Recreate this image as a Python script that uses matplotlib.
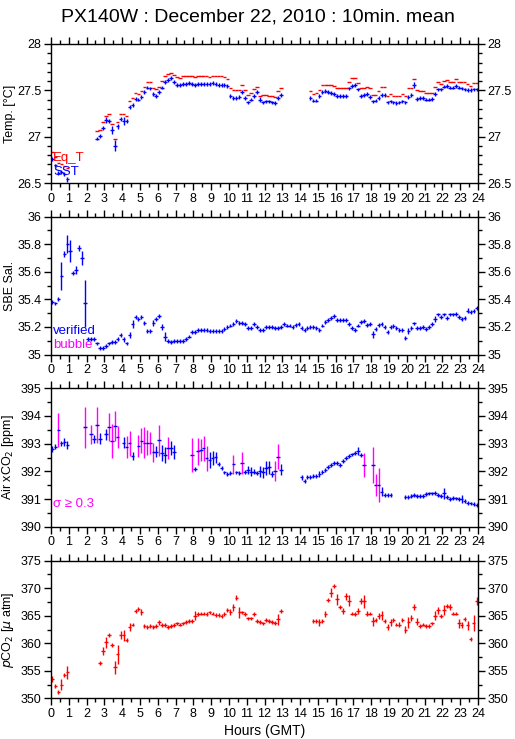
import numpy as np
import matplotlib
matplotlib.use('Agg')
import matplotlib.pyplot as plt
from matplotlib.ticker import MultipleLocator, FuncFormatter

plt.rcParams['font.family'] = ['Liberation Sans', 'DejaVu Sans']

nan = np.nan

# 10 minute bins, 144 per day
hours = np.arange(144) / 6 + 1 / 12

sst = ([26.76, 26.69, 26.61, 26.62, 26.60, 26.54] + [nan] * 9 +
       [26.98, 27.01, 27.09, 27.18, 27.17, 27.07, 26.90, 27.11, 27.19, 27.17,
        27.17, 27.32, 27.34, 27.41, 27.40, 27.43, 27.48, 27.53, 27.52, 27.46,
        27.44, 27.48, 27.53, 27.59, 27.61, 27.63, 27.59,
        27.56, 27.56, 27.57, 27.57, 27.58, 27.57, 27.56, 27.57, 27.57, 27.57,
        27.57, 27.57, 27.58, 27.57, 27.56, 27.56, 27.56, 27.55,
        27.44, 27.42, 27.42, 27.43, 27.48, 27.42, 27.37, 27.40, 27.44,
        27.48, 27.40, 27.37, 27.38, 27.38, 27.37, 27.36, 27.42, 27.45] + [nan] * 9 +
       [27.42, 27.39, 27.39, 27.44, 27.48, 27.49, 27.48, 27.47, 27.46, 27.44,
        27.44, 27.44, 27.44, 27.52, 27.55, 27.56, 27.51, 27.44, 27.45, 27.46,
        27.43, 27.38, 27.39, 27.42, 27.45, 27.45, 27.37, 27.38, 27.37, 27.36,
        27.37, 27.38, 27.37, 27.43, 27.45, 27.56, 27.41, 27.42, 27.42, 27.40,
        27.40, 27.41, 27.46, 27.51, 27.51, 27.54, 27.55, 27.53, 27.53, 27.55,
        27.53, 27.52, 27.51, 27.50, 27.50, 27.51, 27.51])

eq_t = ([26.83, 26.78, 26.72, 26.70, 26.68, 26.66] + [nan] * 9 +
        [27.06, 27.07, 27.16, 27.22, 27.24, 27.14, 26.97, 27.16, 27.25, 27.24,
         27.22, 27.38, 27.42, 27.47, 27.46, 27.49, 27.54, 27.59, 27.59, 27.53,
         27.51, 27.54, 27.60, 27.65, 27.68, 27.69, 27.67,
         27.64, 27.63, 27.65, 27.65, 27.65, 27.65, 27.64, 27.65, 27.65, 27.65,
         27.65, 27.64, 27.65, 27.65, 27.65, 27.65, 27.64, 27.62,
         27.53, 27.50, 27.50, 27.50, 27.56, 27.50, 27.45, 27.47, 27.51,
         27.54, 27.44, 27.45, 27.45, 27.44, 27.44, 27.43, 27.49, 27.52] + [nan] * 9 +
        [27.49, 27.46, 27.47, 27.50, 27.56, 27.56, 27.56, 27.56, 27.55, 27.52,
         27.53, 27.52, 27.52, 27.59, 27.63, 27.63, 27.58, 27.53, 27.53, 27.54,
         27.52, 27.45, 27.45, 27.49, 27.54, 27.54, 27.44, 27.46, 27.44, 27.44,
         27.44, 27.46, 27.44, 27.52, 27.53, 27.62, 27.50, 27.49, 27.49, 27.47,
         27.47, 27.47, 27.54, 27.59, 27.57, 27.60, 27.61, 27.59, 27.59, 27.62,
         27.59, 27.59, 27.59, 27.57, 27.55, 27.58, 27.58])

# bins with a visible spread (index, std)
sst_err = {5: 0.03, 18: 0.03, 19: 0.02, 20: 0.04, 21: 0.06, 22: 0.03, 24: 0.04,
           25: 0.02, 26: 0.02, 27: 0.02, 34: 0.02, 64: 0.02, 68: 0.02, 70: 0.03,
           77: 0.02, 122: 0.03, 129: 0.02}

sal = [35.38, 35.37, 35.40, 35.57, 35.73, 35.80, 35.75, 35.59, 35.61, 35.77, 35.70, 35.37,
       35.11, 35.11, 35.11, 35.08, 35.05, 35.05, 35.06, 35.08, 35.09, 35.09, 35.11, 35.14,
       35.11, 35.08, 35.14, 35.22,
       35.27, 35.26, 35.27, 35.23, 35.17, 35.17, 35.23, 35.26, 35.28, 35.20, 35.13, 35.10,
       35.09, 35.10,
       35.10, 35.10, 35.10, 35.11, 35.13, 35.16, 35.16, 35.175, 35.175, 35.175, 35.175,
       35.17, 35.17, 35.17, 35.17, 35.17,
       35.185, 35.20, 35.21, 35.22, 35.24, 35.23, 35.23, 35.22, 35.19, 35.19,
       35.22, 35.20, 35.175, 35.175, 35.20, 35.20, 35.20, 35.19, 35.19, 35.20,
       35.22, 35.21, 35.21, 35.20, 35.215, 35.22, 35.19, 35.175, 35.19, 35.20,
       35.20, 35.19, 35.175, 35.21, 35.235, 35.25, 35.265, 35.28, 35.25, 35.248,
       35.25, 35.25, 35.22, 35.19, 35.18, 35.21, 35.235, 35.245, 35.215, 35.22,
       35.148, 35.185, 35.215, 35.22, 35.197, 35.16, 35.197, 35.204, 35.19, 35.18,
       35.18, 35.12, 35.17, 35.19, 35.225, 35.19, 35.19, 35.197, 35.185, 35.20,
       35.22, 35.257, 35.29, 35.27, 35.29, 35.265, 35.29, 35.29, 35.294, 35.27,
       35.257, 35.265, 35.318, 35.31, 35.313, 35.337]

sal_err = {3: 0.10, 4: 0.02, 5: 0.065, 6: 0.08, 8: 0.03, 9: 0.02, 10: 0.05, 11: 0.17,
           23: 0.015, 24: 0.02, 26: 0.02, 27: 0.03, 34: 0.02, 37: 0.02, 38: 0.03,
           75: 0.015, 108: 0.025, 119: 0.015, 120: 0.02, 129: 0.02, 140: 0.02}

xco2 = ([392.81, 392.89, 393.49, 393.01, 393.07, 392.95] + [nan] * 5 +
        [393.59, nan, 393.34, 393.17, 393.67, 393.17, nan, 393.34, 393.59, 393.10,
         393.64, 393.24, nan, 393.04, 392.88, 393.02, 392.55, nan, 392.92, 393.11,
         393.04, 393.04, 393.01, 392.69, 392.71, 393.12, 392.66, 392.59, 392.83, 392.83,
         392.69] + [nan] * 5 +
        [392.59, 392.07, 392.72, 392.77, 392.83, 392.47, 392.41, 392.47, 392.51, 392.25,
         392.11, 391.96, 391.90, 391.94, 392.25, 391.96, 391.95, 392.29, 391.99, 392.05,
         391.99, 391.99, 391.93, 392.01, 391.96, 392.11, 392.14, 391.90, 392.01, 392.52,
         392.05] + [nan] * 6 +
        [391.78, 391.65, 391.78, 391.78, 391.84, 391.84, 391.90, 391.99, 392.05, 392.17,
         392.23, 392.31, 392.31, 392.23, 392.37, 392.49, 392.57, 392.61, 392.65, 392.73,
         392.59, 392.23, nan, nan, 392.23, 391.51, 391.51, 391.27, 391.14, 391.14,
         391.14] + [nan] * 4 +
        [391.08, 391.08, 391.10, 391.14, 391.12, 391.12, 391.12, 391.18, 391.20, 391.20,
         391.23, 391.14, 391.11, 391.20, 391.08, 391.00, 391.05, 391.02, 391.00, 391.00,
         390.93, 390.87, 390.84, 390.81, 390.78])

xco2_err = {0: 0.1, 1: 0.1, 2: 0.6, 3: 0.1, 4: 0.15, 5: 0.15, 11: 0.75, 13: 0.35,
            14: 0.15, 15: 0.65, 16: 0.2, 18: 0.2, 19: 0.5, 20: 0.6, 21: 0.55, 22: 0.4,
            24: 0.2, 25: 0.4, 26: 0.45, 27: 0.15, 29: 0.4, 30: 0.45, 31: 0.55, 32: 0.45,
            33: 0.4, 34: 0.35, 35: 0.2, 36: 0.55, 37: 0.28, 38: 0.28, 39: 0.4, 40: 0.25,
            41: 0.25, 47: 0.6, 49: 0.5, 50: 0.4, 51: 0.45, 52: 0.45, 53: 0.28, 54: 0.25,
            55: 0.2, 61: 0.35, 64: 0.4, 66: 0.15, 67: 0.15, 68: 0.1, 70: 0.2, 71: 0.2,
            72: 0.25, 73: 0.25, 74: 0.1, 75: 0.35, 76: 0.45, 77: 0.2, 84: 0.1, 90: 0.1,
            103: 0.15, 105: 0.45, 108: 0.65, 109: 0.4, 110: 0.6, 111: 0.15, 132: 0.2,
            138: 0.15}

pco2 = ([353.5, 352.2, 351.2, 352.5, 354.2, 354.7] + [nan] * 10 +
        [356.4, 358.6, 360.2, 361.5, 359.7, 355.6, 358.0, 361.5, 361.5, 360.6,
         363.0, 363.4, 365.9, 366.3, 365.7, 363.1, 362.95, 363.1, 362.9, 363.1,
         363.8, 363.3, 363.3, 363.0, 363.1, 363.3, 363.6, 363.4, 363.6, 363.9,
         364.0, 364.0, 365.0, 365.3, 365.4, 365.4, 365.3, 365.6, 365.4, 365.1,
         365.1, 364.95, 365.3, 366.0, 365.7, 366.5, 368.3, 365.6, 365.6, 365.3,
         364.5, 364.5, 365.3, 364.0, 363.8, 363.6, 364.3, 364.0, 363.8, 363.7,
         364.4, 365.9] + [nan] * 10 +
        [364.0, 364.0, 363.8, 364.0, 365.3, 367.9, 369.2, 370.4, 368.0, 366.6,
         365.9, 368.5, 367.7, 365.4, 365.3, 365.9, 367.7, 367.6, 365.4, 365.4,
         364.0, 364.2, 364.95, 365.1, 364.0, 363.0, 363.8, 364.2, 363.4, 363.4,
         364.2, 362.5, 363.8, 364.6, 366.6, 363.9, 363.2, 363.4, 363.1, 363.1,
         363.6, 365.0, 366.0, 365.0, 366.0, 366.7, 366.6, 365.4, 365.4, 363.6,
         363.3, 364.4, 363.3, 360.8, 363.7, 367.7])

pco2_err = {0: 0.5, 3: 1.0, 5: 1.2, 17: 0.7, 18: 1.0, 21: 1.2, 22: 1.7, 23: 0.7,
            24: 1.0, 26: 0.7, 30: 0.6, 36: 0.5, 48: 0.8, 60: 0.6, 61: 0.6, 62: 0.5,
            63: 1.0, 76: 1.0, 90: 0.6, 92: 0.6, 94: 0.8, 96: 1.0, 98: 0.5, 99: 0.7,
            100: 1.0, 103: 0.5, 104: 0.6, 105: 1.2, 106: 0.5, 108: 0.8, 110: 0.5,
            111: 0.8, 113: 0.5, 114: 0.6, 117: 0.4, 119: 0.7, 120: 1.0, 121: 0.6,
            122: 0.6, 123: 0.6, 129: 0.8, 130: 0.6, 132: 0.9, 134: 0.6, 137: 0.8,
            138: 0.6, 140: 0.8, 141: 0.4, 142: 1.5, 143: 0.7}

BLUE = '#0000ff'
RED = '#ff0000'
MAGENTA = '#ff00ff'
HALF = 0.1
LW = 1.0


def err_array(values, errs, floor):
    e = np.full(len(values), floor)
    for i, s in errs.items():
        e[i] = max(s, floor)
    return e


def crosses(ax, y, err, color, vcolor=None):
    y = np.asarray(y, dtype=float)
    ax.errorbar(hours, y, xerr=HALF, fmt='none', ecolor=color, elinewidth=LW, capsize=0)
    if vcolor is None:
        ax.errorbar(hours, y, yerr=err, fmt='none', ecolor=color, elinewidth=LW, capsize=0)
    else:
        big = err >= 0.3
        ax.errorbar(hours[~big], y[~big], yerr=err[~big], fmt='none', ecolor=color,
                    elinewidth=LW, capsize=0)
        ax.errorbar(hours[big], y[big], yerr=err[big], fmt='none', ecolor=vcolor,
                    elinewidth=LW, capsize=0, zorder=1.9)


fig = plt.figure(figsize=(5.15, 7.39), dpi=100)
L, W = 51 / 515, 427 / 515
boxes = [(44, 183), (216.5, 354.5), (388.3, 526.7), (560.7, 698.3)]
axes = []
for top, bot in boxes:
    ax = fig.add_axes([L, (739 - bot) / 739, W, (bot - top) / 739])
    axes.append(ax)

ylims = [(26.5, 28), (35, 36), (390, 395), (350, 375)]
majors = [0.5, 0.2, 1, 5]
minors = [0.1, 0.1, 0.5, 2.5]
ylabels = ['Temp. [°C]', 'SBE Sal.', 'Air xCO$_2$ [ppm]', r'$\it{p}$CO$_2$ [$\mu$ atm]']

for ax, yl, mj, mn, lab in zip(axes, ylims, majors, minors, ylabels):
    ax.set_xlim(0, 24)
    ax.set_ylim(*yl)
    ax.xaxis.set_major_locator(MultipleLocator(1))
    ax.xaxis.set_minor_locator(MultipleLocator(0.5))
    ax.yaxis.set_major_locator(MultipleLocator(mj))
    ax.yaxis.set_minor_locator(MultipleLocator(mn))
    ax.yaxis.set_major_formatter(FuncFormatter(lambda v, p: f'{round(v, 3):g}'))
    ax.tick_params(which='both', direction='out', top=True, right=True,
                   labelright=True, labelsize=9, width=1, pad=2)
    ax.tick_params(which='major', length=5)
    ax.tick_params(which='minor', length=3)
    for sp in ax.spines.values():
        sp.set_linewidth(1.0)
    ax.set_ylabel(lab, fontsize=9)
    ax.yaxis.set_label_coords(-0.082, 0.5)

# temperature
crosses(axes[0], sst, err_array(sst, sst_err, 0.02), BLUE)
axes[0].errorbar(hours, eq_t, xerr=HALF, fmt='none', ecolor=RED, elinewidth=LW, capsize=0)
axes[0].text(0.005, 0.18, 'Eq_T', color=RED, transform=axes[0].transAxes,
             fontsize=9.5, va='center')
axes[0].text(0.005, 0.08, 'SST', color=BLUE, transform=axes[0].transAxes,
             fontsize=9.5, va='center')

# salinity
crosses(axes[1], sal, err_array(sal, sal_err, 0.014), BLUE)
axes[1].text(0.005, 0.17, 'verified', color=BLUE, transform=axes[1].transAxes,
             fontsize=9.5, va='center')
axes[1].text(0.005, 0.07, 'bubble', color=MAGENTA, transform=axes[1].transAxes,
             fontsize=9.5, va='center')

# air xCO2
crosses(axes[2], xco2, err_array(xco2, xco2_err, 0.07), BLUE, MAGENTA)
axes[2].text(0.005, 0.165, 'σ ≥ 0.3', color=MAGENTA, transform=axes[2].transAxes,
             fontsize=9.5, va='center')

# pCO2
crosses(axes[3], pco2, err_array(pco2, pco2_err, 0.35), RED)
axes[3].set_xlabel('Hours (GMT)', fontsize=10, labelpad=3)

fig.text(0.5, 0.988, 'PX140W : December 22, 2010 : 10min. mean', ha='center', va='top',
         fontsize=14)

fig.savefig('out.png', dpi=100)
